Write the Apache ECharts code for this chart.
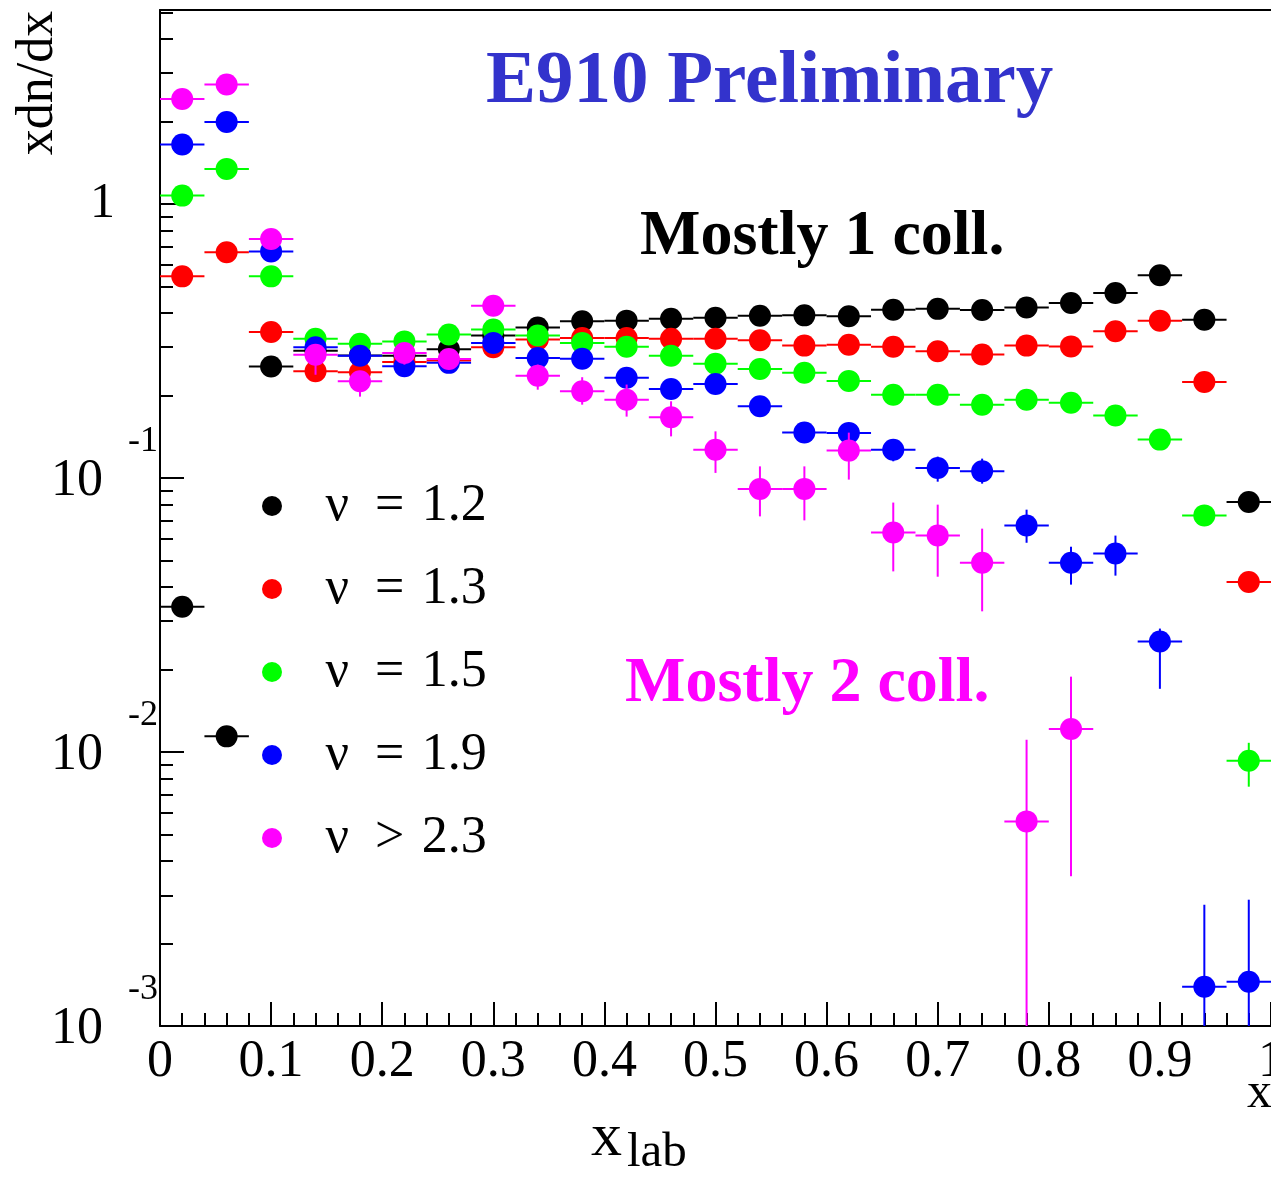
<!DOCTYPE html>
<html><head><meta charset="utf-8">
<script src="https://cdn.jsdelivr.net/npm/echarts@6/dist/echarts.min.js"></script>
<style>html,body{margin:0;padding:0;background:#fff}#c{width:1271px;height:1182px}</style>
</head><body><div id="c"></div>
<script>
// ---- data ----
const xCenters = [0.02,0.06,0.10,0.14,0.18,0.22,0.26,0.30,0.34,0.38,0.42,0.46,0.50,0.54,0.58,0.62,0.66,0.70,0.74,0.78,0.82,0.86,0.90,0.94,0.98];
const binHalfWidth = 0.02;
const seriesNames = ['ν = 1.2','ν = 1.3','ν = 1.5','ν = 1.9','ν > 2.3'];
const seriesColors = ['#000000','#ff0000','#00ff00','#0000ff','#ff00ff'];

const nu12 = [0.0339,0.0114,0.255,0.291,0.280,0.279,0.295,0.331,0.354,0.373,0.375,0.381,0.384,0.391,0.392,0.389,0.411,0.414,0.410,0.419,0.435,0.473,0.549,0.378,0.0817];
const nu13 = [0.544,0.666,0.341,0.245,0.243,0.265,0.268,0.300,0.320,0.324,0.324,0.322,0.322,0.318,0.304,0.306,0.301,0.290,0.282,0.304,0.302,0.343,0.375,0.224,0.0417];
const nu15 = [1.072,1.342,0.544,0.322,0.309,0.315,0.334,0.348,0.331,0.311,0.301,0.279,0.261,0.250,0.242,0.226,0.201,0.201,0.185,0.193,0.188,0.169,0.138,0.0730,0.00929];
const nu19 = [1.646,1.991,0.671,0.300,0.279,0.2555,0.263,0.311,0.274,0.272,0.232,0.211,0.220,0.1825,0.1466,0.146,0.1268,0.1087,0.1057,0.0671,0.0490,0.0530,0.0253,0.00139,0.00145];
const nu23 = [2.416,2.725,0.745,0.2816,0.2252,0.2859,0.2718,0.425,0.236,0.207,0.193,0.1664,0.1268,0.0912,0.0912,0.1258,0.0632,0.0616,0.0490,0.00558,0.01213];

// vertical error bar ends (null = error smaller than the marker)
const nu12Hi = [];
const nu12Lo = [];
const nu13Hi = [];
const nu13Lo = [];
const nu15Hi = [null,null,null,null,null,null,null,null,null,null,null,null,null,null,null,null,null,null,null,null,null,null,null,null,0.0108];
const nu15Lo = [null,null,null,null,null,null,null,null,null,null,null,null,null,null,null,null,null,null,null,null,null,null,null,null,0.00747];
const nu19Hi = [null,null,null,null,null,null,null,null,null,null,null,null,null,null,null,null,0.1379,0.1196,0.1176,0.0766,0.0561,0.0616,0.0282,0.00277,0.00289];
const nu19Lo = [null,null,null,null,null,null,null,null,null,null,null,null,null,null,null,null,0.1150,0.0969,0.0953,0.0580,0.0408,0.0440,0.0170,0.0005,0.0005];
const nu23Hi = [null,null,null,0.2988,0.2423,0.3065,null,null,0.2591,0.2331,0.2191,0.1904,0.1479,0.1102,0.1102,0.1463,0.0813,0.0799,0.0653,0.01109,0.01883];
const nu23Lo = [null,null,null,0.2380,0.1980,0.2591,null,null,0.2099,0.1851,0.1674,0.1418,0.1043,0.0724,0.0700,0.0986,0.0456,0.0436,0.0326,0.0005,0.00352];

const xTicks = [0,0.1,0.2,0.3,0.4,0.5,0.6,0.7,0.8,0.9,1];
const yMajorTicks = [0.001,0.01,0.1,1];
const yMinorTicks = [0.002,0.003,0.004,0.005,0.006,0.007,0.008,0.009,
                     0.02,0.03,0.04,0.05,0.06,0.07,0.08,0.09,
                     0.2,0.3,0.4,0.5,0.6,0.7,0.8,0.9,
                     2,3,4,5];
const yExpTicks = [0.001,0.01,0.1];
const yExpLabels = ['-3','-2','-1'];

const allY = [nu12,nu13,nu15,nu19,nu23];
const allHi = [nu12Hi,nu13Hi,nu15Hi,nu19Hi,nu23Hi];
const allLo = [nu12Lo,nu13Lo,nu15Lo,nu19Lo,nu23Lo];

const SERIF = '"Liberation Serif","Times New Roman",serif';

function makeErrData(vals, hi, lo) {
  return vals.map((v, i) => [xCenters[i], v, (lo[i] == null ? v : lo[i]), (hi[i] == null ? v : hi[i])]);
}

function errRender(color) {
  return function (params, api) {
    const x = api.value(0), y = api.value(1), lo = api.value(2), hi = api.value(3);
    const cs = params.coordSys;
    const pL = api.coord([x - binHalfWidth, y]);
    const pR = api.coord([x + binHalfWidth, y]);
    const pHi = api.coord([x, hi]);
    const pLo = api.coord([x, lo]);
    const bottom = cs.y + cs.height;
    const children = [{
      type: 'line',
      shape: { x1: Math.max(pL[0], cs.x), y1: pL[1], x2: Math.min(pR[0], cs.x + cs.width), y2: pR[1] },
      style: { stroke: color, lineWidth: 2 }
    }];
    if (Math.abs(pLo[1] - pHi[1]) > 0.5) {
      children.push({
        type: 'line',
        shape: { x1: pHi[0], y1: Math.max(pHi[1], cs.y), x2: pLo[0], y2: Math.min(pLo[1], bottom) },
        style: { stroke: color, lineWidth: 2 }
      });
    }
    return { type: 'group', children: children };
  };
}

const series = [];
allY.forEach((vals, k) => {
  series.push({
    type: 'custom',
    name: 'err' + k,
    xAxisIndex: 0, yAxisIndex: 0,
    renderItem: errRender(seriesColors[k]),
    data: makeErrData(vals, allHi[k], allLo[k]),
    encode: { x: 0, y: 1 },
    clip: true,
    silent: true,
    z: 2 + 2 * k
  });
  series.push({
    type: 'scatter',
    name: seriesNames[k],
    xAxisIndex: 0, yAxisIndex: 0,
    symbol: 'circle',
    symbolSize: 22,
    itemStyle: { color: seriesColors[k], opacity: 1 },
    data: vals.map((v, i) => [xCenters[i], v]),
    z: 3 + 2 * k,
    animation: false
  });
});

const chart = echarts.init(document.getElementById('c'), null, { renderer: 'canvas' });
chart.setOption({
  animation: false,
  backgroundColor: '#ffffff',
  grid: { left: 160, right: 0, top: 10, bottom: 156, containLabel: false, outerBoundsMode: 'none' },
  xAxis: [{
    type: 'value', position: 'bottom', min: 0, max: 1, interval: 0.1,
    axisLine: { show: true, onZero: false, lineStyle: { color: '#000', width: 2 } },
    axisTick: { show: true, inside: true, length: 24, lineStyle: { color: '#000', width: 2 } },
    minorTick: { show: true, splitNumber: 5, length: 13, lineStyle: { color: '#000', width: 2 } },
    splitLine: { show: false },
    axisLabel: { show: true, margin: 10, color: '#000', fontFamily: SERIF, fontSize: 52,
      showMinLabel: true, showMaxLabel: true,
      formatter: function (v) { return String(Math.round(v * 10) / 10); } }
  }, {
    type: 'value', position: 'top', min: 0, max: 1,
    axisLine: { show: true, onZero: false, lineStyle: { color: '#000', width: 2 } },
    axisTick: { show: false }, axisLabel: { show: false }, splitLine: { show: false }
  }],
  yAxis: [{
    type: 'log', position: 'left', logBase: 10, min: 0.001, max: 5.1,
    axisLine: { show: true, onZero: false, lineStyle: { color: '#000', width: 2 } },
    axisTick: { show: true, inside: true, length: 24, customValues: yMajorTicks, lineStyle: { color: '#000', width: 2 } },
    splitLine: { show: false },
    axisLabel: {
      show: true, customValues: yMajorTicks, margin: 45, color: '#000', fontFamily: SERIF,
      formatter: function (v) { return v >= 0.5 ? '{one|1}' : '{ten|10}'; },
      rich: {
        one: { fontFamily: SERIF, fontSize: 50, color: '#000' },
        ten: { fontFamily: SERIF, fontSize: 52, color: '#000', padding: [6, 12, 0, 0] }
      }
    }
  }, {
    type: 'log', position: 'left', logBase: 10, min: 0.001, max: 5.1,
    axisLine: { show: false },
    axisTick: { show: true, inside: true, length: 13, customValues: yMinorTicks, lineStyle: { color: '#000', width: 2 } },
    splitLine: { show: false },
    axisLabel: {
      show: true, customValues: yExpTicks, margin: 2, color: '#000', fontFamily: SERIF,
      formatter: function (v) { const i = yExpTicks.findIndex(t => Math.abs(t - v) / t < 1e-6); return i >= 0 ? '{e|' + yExpLabels[i] + '}' : ''; },
      rich: { e: { fontFamily: SERIF, fontSize: 36, color: '#000', padding: [0, 0, 72, 0] } }
    }
  }],
  legend: {
    orient: 'vertical', left: 262, top: 480, padding: 0,
    itemWidth: 97, itemHeight: 20, itemGap: 31, icon: 'circle',
    selectedMode: false,
    data: seriesNames,
    formatter: function (name) { return name.replace(' = ', '\u2002=\u2004').replace(' > ', '\u2002>\u2004'); },
    textStyle: { fontFamily: SERIF, fontSize: 52, lineHeight: 52, color: '#000' }
  },
  graphic: [
    { type: 'text', x: 486, y: 83, style: { text: 'E910 Preliminary', fontFamily: SERIF, fontWeight: 'bold', fontSize: 75, fill: '#3333cc', align: 'left', verticalAlign: 'middle' } },
    { type: 'text', x: 640, y: 237, style: { text: 'Mostly 1 coll.', fontFamily: SERIF, fontWeight: 'bold', fontSize: 64, fill: '#000000', align: 'left', verticalAlign: 'middle' } },
    { type: 'text', x: 625, y: 684, style: { text: 'Mostly 2 coll.', fontFamily: SERIF, fontWeight: 'bold', fontSize: 64, fill: '#ff00ff', align: 'left', verticalAlign: 'middle' } },
    { type: 'text', x: 38, y: 83, rotation: Math.PI / 2, style: { text: 'xdn/dx', fontFamily: SERIF, fontSize: 52, fill: '#000', align: 'center', verticalAlign: 'middle' } },
    { type: 'text', x: 591, y: 1139, style: { text: 'x', fontFamily: SERIF, fontSize: 62, fill: '#000', align: 'left', verticalAlign: 'middle' } },
    { type: 'text', x: 627, y: 1153, style: { text: 'lab', fontFamily: SERIF, fontSize: 49, fill: '#000', align: 'left', verticalAlign: 'middle' } },
    { type: 'text', x: 1247, y: 1094, style: { text: 'x', fontFamily: SERIF, fontSize: 50, fill: '#000', align: 'left', verticalAlign: 'middle' } }
  ],
  series: series
});
</script>
</body></html>
